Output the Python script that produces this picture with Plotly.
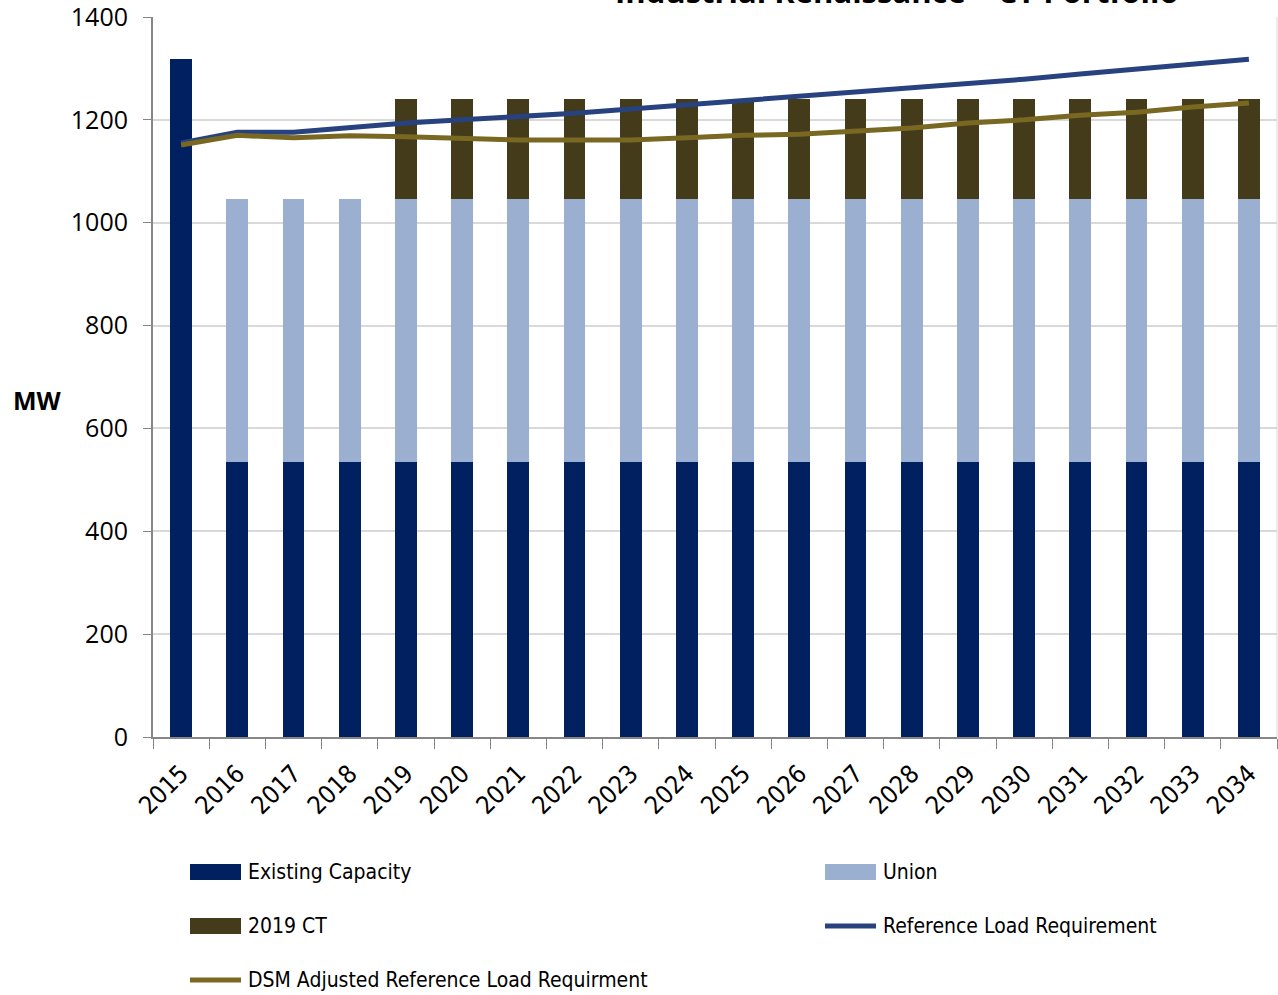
import plotly.graph_objects as go

# Portfolio data (MW)
years = [str(y) for y in range(2015, 2035)]
existing_capacity = [1318] + [535] * 19
union = [0] + [511] * 19
ct_2019 = [0, 0, 0, 0] + [194] * 16
reference_load = [1155, 1176, 1176, 1186, 1194, 1200, 1206, 1213, 1221, 1229,
                  1239, 1246, 1254, 1262, 1270, 1279, 1289, 1299, 1308, 1318]
dsm_adjusted_load = [1151, 1170, 1165, 1169, 1167, 1163, 1161, 1161, 1161, 1165,
                     1170, 1172, 1178, 1184, 1194, 1200, 1209, 1215, 1225, 1233]
y_ticks = [0, 200, 400, 600, 800, 1000, 1200, 1400]

C_EXIST = "#002060"
C_UNION = "#9bb0d0"
C_CT = "#433b19"
C_REF = "#27427f"
C_DSM = "#796822"

W, H = 1278, 995
L, R, T, B = 153, 1, 17, 258
PW, PH = W - L - R, H - T - B

def px(x):
    return (x - L) / PW

def py(y):
    return (H - B - y) / PH

fig = go.Figure()
fig.add_bar(x=years, y=existing_capacity, name="Existing Capacity", marker_color=C_EXIST,
            marker_line_width=0)
fig.add_bar(x=years, y=union, name="Union", marker_color=C_UNION, marker_line_width=0)
fig.add_bar(x=years, y=ct_2019, name="2019 CT", marker_color=C_CT, marker_line_width=0)
fig.add_scatter(x=years, y=reference_load, name="Reference Load Requirement", mode="lines",
                line=dict(color=C_REF, width=5))
fig.add_scatter(x=years, y=dsm_adjusted_load, name="DSM Adjusted Reference Load Requirment",
                mode="lines", line=dict(color=C_DSM, width=5))

legend_font = dict(family="Liberation Sans Narrow, DejaVu Sans Condensed, sans-serif",
                   size=21, color="#000000")
legend_items = [
    ("Existing Capacity", "bar", C_EXIST, 190, 872),
    ("Union", "bar", C_UNION, 825, 872),
    ("2019 CT", "bar", C_CT, 190, 926),
    ("Reference Load Requirement", "line", C_REF, 825, 926),
    ("DSM Adjusted Reference Load Requirment", "line", C_DSM, 190, 980),
]
shapes = []
annotations = []
for label, kind, color, x0, yc in legend_items:
    if kind == "bar":
        shapes.append(dict(type="rect", xref="paper", yref="paper",
                           x0=px(x0), x1=px(x0 + 51), y0=py(yc - 8), y1=py(yc + 8),
                           fillcolor=color, line=dict(width=0)))
    else:
        shapes.append(dict(type="line", xref="paper", yref="paper",
                           x0=px(x0), x1=px(x0 + 51), y0=py(yc), y1=py(yc),
                           line=dict(color=color, width=5)))
    annotations.append(dict(text=label, xref="paper", yref="paper", x=px(x0 + 56), y=py(yc),
                            xanchor="left", yanchor="middle", showarrow=False,
                            font=legend_font))

# right edge of the plot area
shapes.append(dict(type="line", xref="paper", yref="paper", x0=1, x1=1, y0=0, y1=1,
                   line=dict(color="#d9d9d9", width=1)))

annotations.append(dict(text="<b>MW</b>", xref="paper", yref="paper", x=px(11), y=py(400),
                        xanchor="left", yanchor="middle", showarrow=False,
                        font=dict(family="Open Sans, sans-serif", size=25, color="#000")))
annotations.append(dict(text="<b>Industrial Renaissance \u2013 CT Portfolio</b>",
                        xref="paper", yref="paper", x=px(897), y=py(14),
                        xanchor="center", yanchor="bottom", showarrow=False,
                        font=dict(family="Open Sans, sans-serif", size=31, color="#000")))

fig.update_layout(
    width=W, height=H,
    margin=dict(l=L, r=R, t=T, b=B),
    barmode="stack", bargap=0.61,
    plot_bgcolor="white", paper_bgcolor="white",
    showlegend=False,
    shapes=shapes, annotations=annotations,
)
fig.update_xaxes(
    type="category", tickangle=-45, tickson="boundaries", ticks="outside", ticklen=10,
    tickcolor="#868686", showline=True, linecolor="#868686", linewidth=2,
    ticklabelstandoff=10, automargin=False,
    tickfont=dict(family="Liberation Sans Narrow, DejaVu Sans Condensed, sans-serif",
                  size=25, color="#000"),
    showgrid=False,
)
fig.update_yaxes(
    range=[0, 1400], tickvals=y_ticks, ticks="outside", ticklen=8, tickcolor="#868686",
    showline=True, linecolor="#868686", linewidth=2,
    ticklabelstandoff=10, ticklabeloverflow="allow", automargin=False,
    gridcolor="#d9d9d9", gridwidth=2, zeroline=False,
    tickfont=dict(family="Open Sans, sans-serif", size=25, color="#000"),
)

fig.write_html("out.html")
